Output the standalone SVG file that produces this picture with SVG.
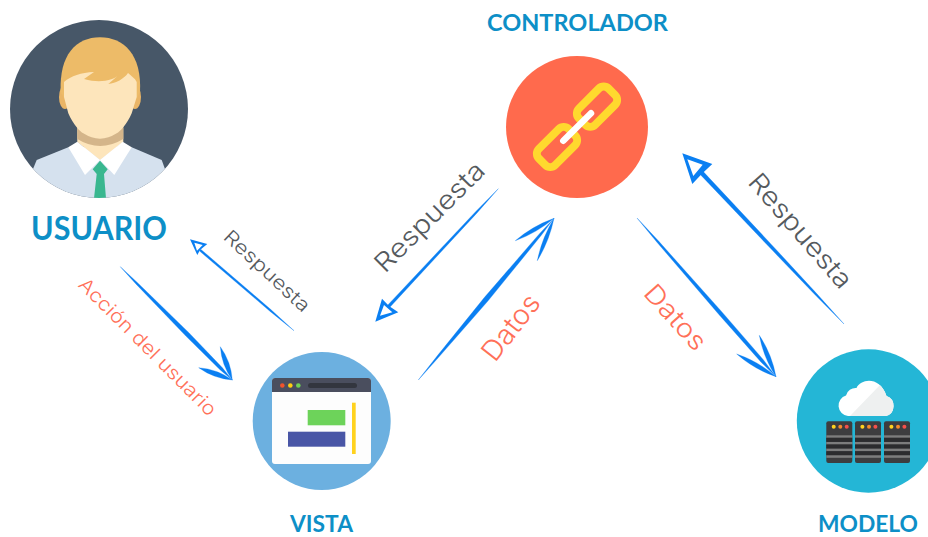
<svg xmlns="http://www.w3.org/2000/svg" width="928" height="537" viewBox="0 0 928 537">
<style>
.h{font-family:"Lato","Liberation Sans",sans-serif;font-weight:700;fill:#0d8fc7}
.g{font-family:"Inter","Open Sans",sans-serif;font-weight:300;fill:#555a5e}
.s{font-family:"Inter","Open Sans",sans-serif;font-weight:300;fill:#ff7058}
.a{fill:#0a7ff2;stroke:#0a7ff2;stroke-width:.3;stroke-linejoin:round}
.o{fill:#0a7ff2;fill-rule:evenodd}
.link{fill:none;stroke:#ffd92e;stroke-width:8}
</style>
<defs>
<clipPath id="cu"><circle cx="99" cy="109" r="89"/></clipPath>
<clipPath id="cloud"><path d="M848 416A10.5 10.5 0 0 1 846 395.5A10 10 0 0 1 856.500 388C861 378.500 880 376 886.500 396A10.500 10.500 0 0 1 886 416Z"/></clipPath>
<g id="srv">
<rect x="0" y="0" width="26" height="41.700" rx="2" fill="#3d3d3f"/>
<rect x="0" y="14" width="26" height="2.500" fill="#7d7d7d"/>
<rect x="0" y="16.500" width="26" height="4" fill="#2c2c2e"/>
<rect x="0" y="20.700" width="26" height="2.500" fill="#7d7d7d"/>
<rect x="0" y="23.200" width="26" height="4" fill="#2c2c2e"/>
<rect x="0" y="27.400" width="26" height="2.500" fill="#7d7d7d"/>
<rect x="0" y="30" width="26" height="4" fill="#2c2c2e"/>
<rect x="0" y="34" width="26" height="2.500" fill="#7d7d7d"/>
<circle cx="7.400" cy="5.500" r="2" fill="#ffd21e"/>
<circle cx="14" cy="5.500" r="2" fill="#f58a2b"/>
<circle cx="20.400" cy="5.500" r="2" fill="#f4504a"/>
</g>
</defs>
<rect width="928" height="537" fill="#fff"/>

<g id="usuario">
<circle cx="99" cy="109" r="89" fill="#475768"/>
<g clip-path="url(#cu)">
<path d="M33.300 168.300L36.700 160L68.300 147.300H131.700L161.700 160L165 169V200H33.300Z" fill="#d5e1ee"/>
<path d="M77.300 125H123.300V142L100 160L77.300 142Z" fill="#fde5bb"/>
<path d="M77.300 128H123.300V139Q100 153 77.300 139Z" fill="#d4b58a"/>
<path d="M68.300 147.300L77.300 141.700L100 160L85 175Z" fill="#fff"/>
<path d="M131.700 147.300L122.700 141.700L100 160L114.300 175Z" fill="#fff"/>
<path d="M100 160.700L107.700 169.300L104 174L106 198.300H94L96.700 174L92.700 169.300Z" fill="#39b78f"/>
</g>
<ellipse cx="65" cy="97" rx="6" ry="12" fill="#eab566"/>
<ellipse cx="135" cy="97" rx="6" ry="12" fill="#eab566"/>
<path d="M60.700 92C59 55 76 37.300 100 37.300C124 37.300 142 55 140 92L136 100H65Z" fill="#edbb68"/>
<path d="M64 82C71 76 81 72.500 94 72L84 79C95 82 103 82 112 79C115 78 116 77 117.500 76L108.300 84C116 83 124 79 128 73C131 76 135 78 136.700 82V97L131.700 113.300C127 124 120 132 116.700 133.300Q100 144 83.300 133.300C80 132 73 124 68.300 113.300L64 97Z" fill="#fde5bb"/>
</g>
<text class="h" x="31" y="240" font-size="32" textLength="136" lengthAdjust="spacingAndGlyphs">USUARIO</text>

<g id="vista">
<circle cx="321.700" cy="421" r="69" fill="#6cb0e0"/>
<rect x="272" y="378" width="99" height="86" rx="3" fill="#fdfdfd"/>
<path d="M272 392V381a3 3 0 0 1 3-3H368a3 3 0 0 1 3 3V392Z" fill="#4a4e5e"/>
<circle cx="282.300" cy="385.500" r="2.300" fill="#f0532c"/>
<circle cx="290.300" cy="385.500" r="2.300" fill="#ffcf10"/>
<circle cx="298.300" cy="385.500" r="2.300" fill="#6fd354"/>
<rect x="308" y="383" width="49" height="5" rx="2.500" fill="#33363f"/>
<rect x="307.700" y="410" width="37.600" height="15.300" fill="#6dd35a"/>
<rect x="288" y="431.700" width="57.300" height="15" fill="#4956a6"/>
<rect x="352" y="402.700" width="3.700" height="51.300" fill="#ffd21e"/>
</g>
<text class="h" x="290" y="532" font-size="23" textLength="63" lengthAdjust="spacingAndGlyphs">VISTA</text>

<g id="controlador">
<circle cx="577" cy="127" r="71" fill="#ff6a4d"/>
<rect x="-21" y="-11.500" width="42" height="23" rx="7" class="link" transform="translate(597 106.700) rotate(-45)"/>
<rect x="-21" y="-11.500" width="42" height="23" rx="7" class="link" transform="translate(557 147) rotate(-45)"/>
<line x1="563.300" y1="140.700" x2="591" y2="113.300" stroke="#fff" stroke-width="6.500" stroke-linecap="round"/>
</g>
<text class="h" x="487" y="31" font-size="22" textLength="181" lengthAdjust="spacingAndGlyphs">CONTROLADOR</text>

<g id="modelo">
<circle cx="868.500" cy="421" r="71.700" fill="#24b6d6"/>
<path d="M848 416A10.500 10.500 0 0 1 846 395.500A10 10 0 0 1 856.500 388C861 378.500 880 376 886.500 396A10.500 10.500 0 0 1 886 416Z" fill="#fff"/>
<path d="M881.700 383.300L850 416H900V383.300Z" fill="#eef0f0" clip-path="url(#cloud)"/>
<use href="#srv" x="826.300" y="421.300"/>
<use href="#srv" x="855" y="421.300"/>
<use href="#srv" x="884" y="421.300"/>
</g>
<text class="h" x="818" y="532" font-size="23" textLength="100" lengthAdjust="spacingAndGlyphs">MODELO</text>

<g id="connectors">
<path class="a" d="M120.300 266.700L137.800 283L189.100 332.900L222.200 367.600L232.300 380L220 369.700L185.900 336.100L136.400 284.400Z"/>
<path class="a" d="M232.300 380Q231 361.600 220.300 346.700Q221.600 365 232.300 380Q217.200 369.100 198.700 367.700Q213.800 378.500 232.300 380Z"/>
<path class="a" d="M294 330.700L271.100 309.800L200.700 249.200L199.300 250.800L269.900 311.200Z"/>
<path class="o" d="M190 239.300L207.300 244L200 250L197.300 255ZM194.300 242.700L202.700 245L197 250.700Z"/>
<path class="a" d="M418.300 380L439.500 356.300L488.100 300.800L541.300 235.300L554 218.300L539.500 233.700L484.300 297.600L437.900 355.100Z"/>
<path class="a" d="M554 218.300Q536.600 233 515.300 240.700Q532.600 226 554 218.300Q549.300 241 537.300 260.700Q541.900 238 554 218.300Z"/>
<path class="a" d="M498.300 188.700L477 212.900L389.400 307.700L387.200 305.700L475.600 211.700Z"/>
<path class="o" d="M375.300 321.700L382 298.700L389 306L398.300 312.300ZM380 315.700L384 305L392.300 312.300Z"/>
<path class="a" d="M637 218L658.600 241.100L721.900 311.900L763.300 359.700L776 376.700L760.900 361.900L718.900 314.500L657.200 242.500Z"/>
<path class="a" d="M776 376.700Q771.900 354.300 759.300 335.300Q763.500 357.700 776 376.700Q758.600 361.500 736.700 354Q754.200 369.300 776 376.700Z"/>
<path class="a" d="M844 324L816.200 293.100L774.100 247.400L703.200 171.600L700.200 174.400L771.700 249.600L814.800 294.500Z"/>
<path class="o" d="M682.300 153.300L712.300 164L701.700 174L692.300 184ZM687.300 159.300L702.700 164.700L693.300 176Z"/>
</g>

<g id="labels">
<text class="g" font-size="19" textLength="110" lengthAdjust="spacingAndGlyphs" transform="translate(222.300 238.300) rotate(43)">Respuesta</text>
<text class="s" font-size="19" textLength="186" lengthAdjust="spacingAndGlyphs" transform="translate(77.300 285.700) rotate(45)">Acción del usuario</text>
<text class="g" font-size="26" textLength="144" lengthAdjust="spacingAndGlyphs" transform="translate(385 274) rotate(-45)">Respuesta</text>
<text class="s" font-size="28" textLength="76" lengthAdjust="spacingAndGlyphs" transform="translate(495 363.300) rotate(-52)">Datos</text>
<text class="g" font-size="26" textLength="143" lengthAdjust="spacingAndGlyphs" transform="translate(746.700 182.700) rotate(49)">Respuesta</text>
<text class="s" font-size="26" textLength="79" lengthAdjust="spacingAndGlyphs" transform="translate(642.300 294) rotate(48)">Datos</text>
</g>
</svg>
